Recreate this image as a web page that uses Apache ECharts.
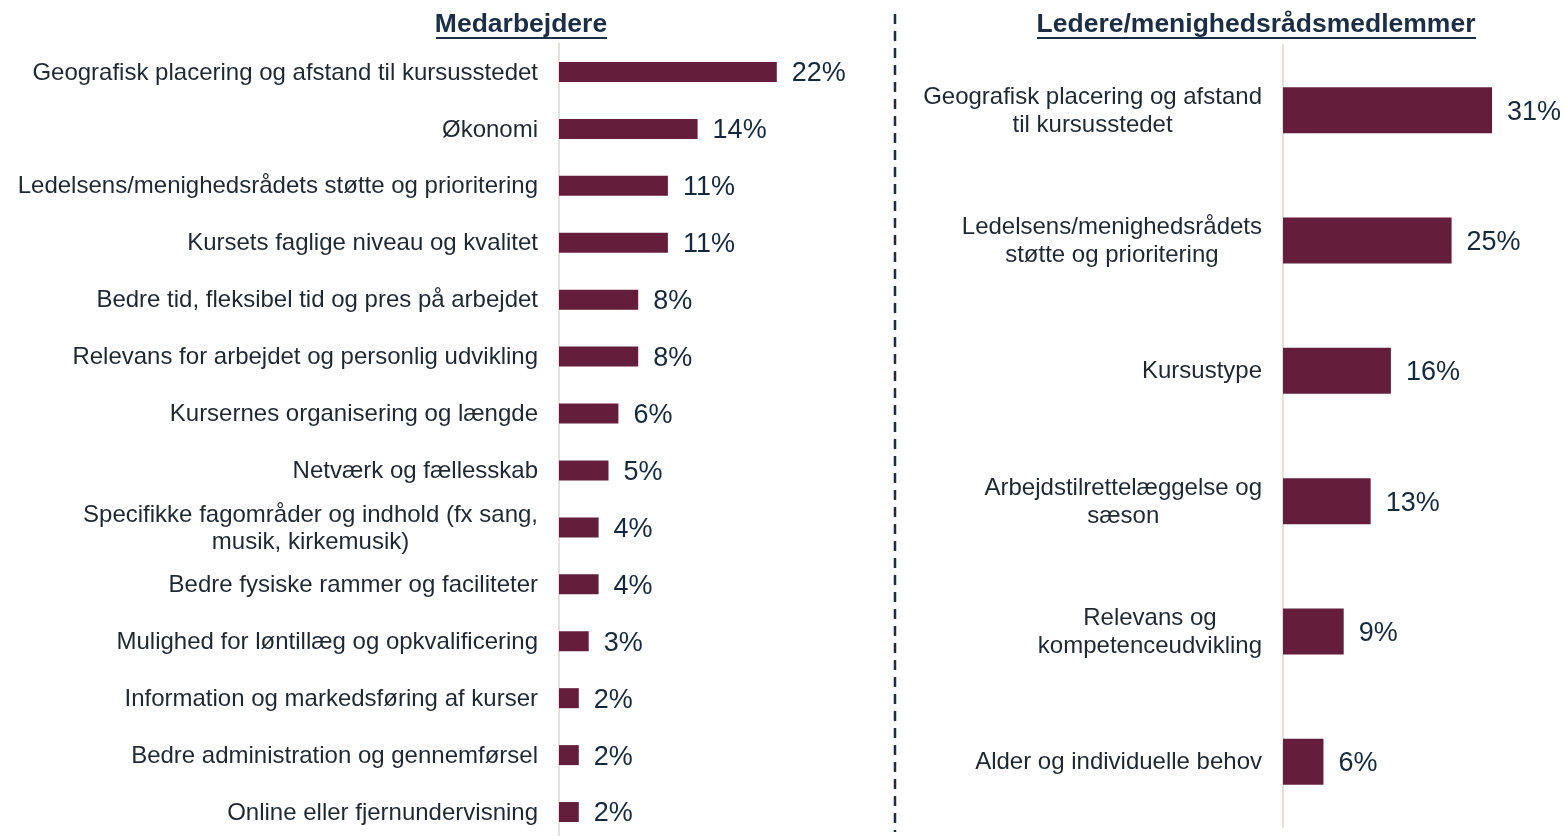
<!DOCTYPE html>
<html>
<head>
<meta charset="utf-8">
<script src="https://cdn.jsdelivr.net/npm/echarts@6/dist/echarts.min.js"></script>
<style>
  html, body { margin: 0; padding: 0; background: #fff; }
  #main { width: 1565px; height: 836px; }
</style>
</head>
<body>
<div id="main"></div>
<script>
// data
var medCategories = [
  'Geografisk placering og afstand til kursusstedet',
  'Økonomi',
  'Ledelsens/menighedsrådets støtte og prioritering',
  'Kursets faglige niveau og kvalitet',
  'Bedre tid, fleksibel tid og pres på arbejdet',
  'Relevans for arbejdet og personlig udvikling',
  'Kursernes organisering og længde',
  'Netværk og fællesskab',
  'Specifikke fagområder og indhold (fx sang,\nmusik, kirkemusik)',
  'Bedre fysiske rammer og faciliteter',
  'Mulighed for løntillæg og opkvalificering',
  'Information og markedsføring af kurser',
  'Bedre administration og gennemførsel',
  'Online eller fjernundervisning'
];
var medValues = [22, 14, 11, 11, 8, 8, 6, 5, 4, 4, 3, 2, 2, 2];

var ledCategories = [
  'Geografisk placering og afstand\ntil kursusstedet',
  'Ledelsens/menighedsrådets\nstøtte og prioritering',
  'Kursustype',
  'Arbejdstilrettelæggelse og\nsæson',
  'Relevans og\nkompetenceudvikling',
  'Alder og individuelle behov'
];
var ledValues = [31, 25, 16, 13, 9, 6];

var titles = ['Medarbejdere', 'Ledere/menighedsrådsmedlemmer'];

var font = '"Liberation Sans", Arial, sans-serif';
var barColor = '#641E3C';
var navy = '#1B2E45';
var axisColor = '#E8E0D6';

// center each line of multi-line labels
function centerLines(v) {
  return v.split('\n').map(function (s) { return '{c|' + s + '}'; }).join('\n');
}

function yAxisFor(idx, cats, lh) {
  return {
    type: 'category',
    gridIndex: idx,
    data: cats,
    inverse: true,
    axisTick: { show: false },
    axisLine: { show: true, lineStyle: { color: axisColor, width: 2 } },
    axisLabel: {
      margin: 21,
      formatter: centerLines,
      rich: {
        c: { align: 'center', fontSize: 24, fontFamily: font, color: '#1E2833', lineHeight: lh, padding: [2, 0, 0, 0] }
      }
    }
  };
}

function barSeries(idx, vals, bw) {
  return {
    type: 'bar',
    xAxisIndex: idx,
    yAxisIndex: idx,
    data: vals,
    barWidth: bw,
    itemStyle: { color: barColor },
    label: {
      show: true,
      position: 'right',
      distance: 15,
      offset: [0, 2],
      formatter: '{c}%',
      fontSize: 27,
      fontFamily: font,
      color: '#15293D'
    },
    silent: true
  };
}

var myChart = echarts.init(document.getElementById('main'));

myChart.setOption({
  animation: false,
  grid: [
    { left: 559, top: 43.5, width: 297, height: 797, outerBoundsMode: 'none' },
    { left: 1283, top: 45, width: 263, height: 782, outerBoundsMode: 'none' }
  ],
  xAxis: [
    { type: 'value', gridIndex: 0, min: 0, max: 30, show: false },
    { type: 'value', gridIndex: 1, min: 0, max: 39, show: false }
  ],
  yAxis: [
    yAxisFor(0, medCategories, 27),
    yAxisFor(1, ledCategories, 28)
  ],
  series: [
    barSeries(0, medValues, 20),
    barSeries(1, ledValues, 46)
  ],
  graphic: [
    {
      type: 'text', x: 521, y: 25,
      style: { text: titles[0], fontSize: 26.5, fontWeight: 'bold', fontFamily: font,
        fill: navy, align: 'center', verticalAlign: 'middle' }
    },
    { type: 'line', shape: { x1: 436, y1: 38, x2: 607, y2: 38 }, style: { stroke: navy, lineWidth: 2 } },
    {
      type: 'text', x: 1256, y: 25,
      style: { text: titles[1], fontSize: 26.5, fontWeight: 'bold', fontFamily: font,
        fill: navy, align: 'center', verticalAlign: 'middle' }
    },
    { type: 'line', shape: { x1: 1037, y1: 38, x2: 1476, y2: 38 }, style: { stroke: navy, lineWidth: 2 } },
    {
      type: 'line', shape: { x1: 895, y1: 14, x2: 895, y2: 832 },
      style: { stroke: navy, lineWidth: 2.5, lineDash: [10, 7] }
    }
  ]
});
</script>
</body>
</html>
